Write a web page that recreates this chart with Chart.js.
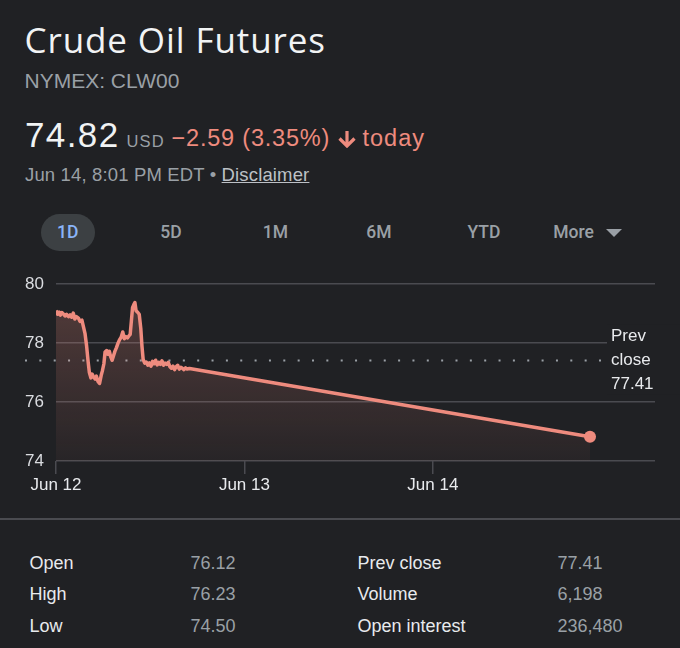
<!DOCTYPE html>
<html>
<head>
<meta charset="utf-8">
<script src="https://cdn.jsdelivr.net/npm/chart.js@4.4.0/dist/chart.umd.min.js"></script>
<style>
  html, body { margin: 0; padding: 0; background: #202124; }
  body { width: 680px; height: 648px; position: relative; overflow: hidden;
         font-family: "Liberation Sans", Arial, sans-serif; }
  .t { position: absolute; line-height: 1; white-space: nowrap; }
  .gray { color: #9aa0a6; }
  .red { color: #ee8b7e; }
  .tab { position: absolute; top: 224.2px; font-family: Roboto, "Liberation Sans", sans-serif;
         font-weight: 500; font-size: 17.5px; line-height: 1; color: #9aa0a6;
         transform: translateX(-50%); white-space: nowrap; }
  #pill { position: absolute; left: 41px; top: 213.5px; width: 54px; height: 37.5px;
          border-radius: 18.75px; background: #3c4043; }
  #more-tri { position: absolute; left: 606px; top: 229px; width: 0; height: 0;
              border-left: 8px solid transparent; border-right: 8px solid transparent;
              border-top: 8px solid #9aa0a6; }
  #wrap { position: absolute; left: 0; top: 262px; width: 680px; height: 240px; }
  #divider { position: absolute; left: 0; top: 518px; width: 680px; height: 2px; background: #4a4b50; }
  .cell { position: absolute; font-size: 18px; line-height: 1; white-space: nowrap; }
</style>
</head>
<body>
<div class="t" style="left:24.5px;top:22px;font-family:'Open Sans';font-size:35px;letter-spacing:0.9px;color:#f1f3f4">Crude Oil Futures</div>
<div class="t gray" style="left:24.5px;top:69.5px;font-size:21px">NYMEX: CLW00</div>

<div class="t" style="left:25px;top:117px;font-size:35px;letter-spacing:1.4px;color:#f1f3f4">74.82</div>
<div class="t gray" style="left:126.5px;top:132.7px;font-size:16.5px;letter-spacing:1.2px">USD</div>
<div class="t red" style="left:171.5px;top:126.8px;font-size:23.5px;letter-spacing:0.8px">−2.59 (3.35%)</div>
<svg style="position:absolute;left:337px;top:131px" width="20" height="17" viewBox="0 0 20 17">
  <path d="M10 0 V14.5 M2.5 7.5 L10 15 L17.5 7.5" fill="none" stroke="#ee8b7e" stroke-width="3.2"/>
</svg>
<div class="t red" style="left:362.5px;top:126.8px;font-size:23.5px;letter-spacing:1px">today</div>
<div class="t gray" style="left:25px;top:166px;font-size:18.5px;letter-spacing:0.15px">Jun 14, 8:01 PM EDT • <span style="color:#bdc1c6;text-decoration:underline">Disclaimer</span></div>

<div id="pill"></div>
<div id="tabs"></div>
<div id="more-tri"></div>

<div id="wrap"><canvas id="chart" width="680" height="240" style="width:680px;height:240px"></canvas></div>
<div id="divider"></div>
<div id="stats"></div>

<script>
// hours since Jun 12, 00:00 and the price at that time
const hours = [0, 0.2, 0.4, 0.55, 0.75, 0.95, 1.15, 1.35, 1.6, 1.8, 2.0, 2.2, 2.4, 2.6, 2.85, 3.05,
  3.3, 3.5, 3.7, 3.9, 4.1, 4.25, 4.45, 4.6, 4.8, 5.0, 5.15, 5.35, 5.55, 5.75, 5.9, 6.1, 6.25, 6.45,
  6.6, 6.8, 6.95, 7.15, 7.3, 7.5, 7.7, 7.9, 8.1, 8.3, 8.5, 8.7, 8.9, 9.1, 9.3, 9.45, 9.6, 9.75, 9.9,
  10.05, 10.2, 10.4, 10.6, 10.8, 10.95, 11.1, 11.3, 11.5, 11.7, 11.9, 12.1, 12.3, 12.5, 12.7, 12.9,
  13.1, 13.3, 13.5, 13.7, 13.9, 14.1, 14.3, 14.5, 14.7, 14.9, 15.1, 15.3, 15.5, 15.7, 15.9, 16.1,
  16.3, 16.5, 16.7, 17.0, 68.02];
const prices = [79.11, 78.98, 79.05, 78.95, 79.04, 78.99, 78.92, 78.98, 78.9, 78.96, 78.88, 79.02,
  78.82, 78.9, 78.85, 78.74, 78.78, 78.55, 78.32, 77.9, 77.35, 77.0, 76.82, 76.95, 76.85, 76.78,
  76.88, 76.7, 76.63, 76.9, 77.05, 77.3, 77.7, 77.75, 77.62, 77.72, 77.55, 77.42, 77.55, 77.72,
  77.85, 78.0, 78.12, 78.2, 78.38, 78.15, 78.22, 78.18, 78.25, 78.3, 78.75, 79.2, 79.3, 79.38,
  79.1, 79.05, 78.98, 78.5, 77.9, 77.45, 77.32, 77.36, 77.25, 77.33, 77.22, 77.38, 77.3, 77.42,
  77.26, 77.35, 77.28, 77.4, 77.25, 77.32, 77.28, 77.35, 77.2, 77.15, 77.22, 77.1, 77.2, 77.25,
  77.12, 77.18, 77.15, 77.1, 77.16, 77.12, 77.14, 74.82];
const prevClose = 77.41;
const dayTicks = [0, 24, 48];
const dayLabels = ['Jun 12', 'Jun 13', 'Jun 14'];
const priceTicks = [74, 76, 78, 80];

const tabLabels = ['1D', '5D', '1M', '6M', 'YTD', 'More'];
const statNamesLeft = ['Open', 'High', 'Low'];
const statValuesLeft = ['76.12', '76.23', '74.50'];
const statNamesRight = ['Prev close', 'Volume', 'Open interest'];
const statValuesRight = ['77.41', '6,198', '236,480'];

const BG = '#202124';
const SALMON = '#ee8b7e';
const GRID = '#4a4b50';

// tabs row
const tabCenters = [67.8, 171, 275.5, 379, 484, 573.5];
const tabsEl = document.getElementById('tabs');
tabLabels.forEach((label, i) => {
    const d = document.createElement('div');
    d.className = 'tab';
    d.style.left = tabCenters[i] + 'px';
    if (i === 0) d.style.color = '#8ab4f8';
    d.textContent = label;
    tabsEl.appendChild(d);
});

// stats table
const rowTops = [553.8, 585, 616.5];
const statsEl = document.getElementById('stats');
function addCell(text, left, top, color) {
    const d = document.createElement('div');
    d.className = 'cell';
    d.style.left = left + 'px';
    d.style.top = top + 'px';
    d.style.color = color;
    d.textContent = text;
    statsEl.appendChild(d);
}
rowTops.forEach((top, i) => {
    addCell(statNamesLeft[i], 29.5, top, '#e8eaed');
    addCell(statValuesLeft[i], 190.5, top, '#9aa0a6');
    addCell(statNamesRight[i], 357.5, top, '#e8eaed');
    addCell(statValuesRight[i], 557.5, top, '#9aa0a6');
});

// dotted previous close line + its label
const prevClosePlugin = {
    id: 'prevClose',
    beforeDatasetsDraw(chart) {
        const { ctx, chartArea, scales: { y } } = chart;
        const py = y.getPixelForValue(prevClose);
        ctx.save();
        ctx.fillStyle = BG;
        ctx.fillRect(chartArea.right - 48, py - 36, 80, 70);
        ctx.strokeStyle = '#9aa0a6';
        ctx.lineWidth = 2;
        ctx.setLineDash([2, 12.35]);
        ctx.beginPath();
        ctx.moveTo(25, py);
        ctx.lineTo(601, py);
        ctx.stroke();
        ctx.setLineDash([]);
        ctx.fillStyle = '#e8eaed';
        ctx.font = '17px "Liberation Sans", Arial, sans-serif';
        ctx.textAlign = 'left';
        ctx.textBaseline = 'middle';
        const lx = chartArea.right - 44;
        ctx.fillText('Prev', lx, py - 23.8);
        ctx.fillText('close', lx, py);
        ctx.fillText(prevClose.toFixed(2), lx, py + 23.5);
        ctx.restore();
    }
};

Chart.defaults.font.family = '"Liberation Sans", Arial, sans-serif';

const ctx = document.getElementById('chart').getContext('2d');
new Chart(ctx, {
    type: 'line',
    data: {
        datasets: [{
            data: hours.map((h, i) => ({ x: h, y: prices[i] })),
            borderColor: SALMON,
            borderWidth: 3.5,
            borderJoinStyle: 'round',
            tension: 0,
            fill: 'start',
            backgroundColor: function (c) {
                const a = c.chart.chartArea;
                if (!a) return 'rgba(238,139,126,0.15)';
                const g = c.chart.ctx.createLinearGradient(0, a.top, 0, a.bottom);
                g.addColorStop(0, 'rgba(238,139,126,0.26)');
                g.addColorStop(1, 'rgba(238,139,126,0.04)');
                return g;
            },
            pointRadius: c => (c.dataIndex === hours.length - 1 ? 6 : 0),
            pointBackgroundColor: SALMON,
            pointBorderWidth: 0
        }]
    },
    options: {
        responsive: false,
        animation: false,
        events: [],
        layout: { padding: { top: 18, right: 25, left: 0, bottom: 0 } },
        plugins: {
            legend: { display: false },
            tooltip: { enabled: false }
        },
        scales: {
            x: {
                type: 'linear',
                min: 0,
                max: 76.3,
                afterBuildTicks: scale => { scale.ticks = dayTicks.map(v => ({ value: v })); },
                afterFit: scale => { scale.height = 41; },
                border: { display: false },
                grid: {
                    drawOnChartArea: false,
                    drawTicks: true,
                    tickLength: 13,
                    color: GRID,
                    lineWidth: 1.5
                },
                ticks: {
                    autoSkip: false,
                    maxRotation: 0,
                    padding: 1,
                    color: '#e8eaed',
                    font: { size: 17 },
                    callback: value => dayLabels[dayTicks.indexOf(value)]
                }
            },
            y: {
                min: 74,
                max: 80,
                afterBuildTicks: scale => { scale.ticks = priceTicks.map(v => ({ value: v })); },
                afterFit: scale => { scale.width = 56; },
                border: { display: false },
                grid: {
                    drawTicks: false,
                    color: GRID,
                    lineWidth: 1.5
                },
                ticks: {
                    padding: 12,
                    color: '#dadce0',
                    font: { size: 17 }
                }
            }
        }
    },
    plugins: [prevClosePlugin]
});
</script>
</body>
</html>
